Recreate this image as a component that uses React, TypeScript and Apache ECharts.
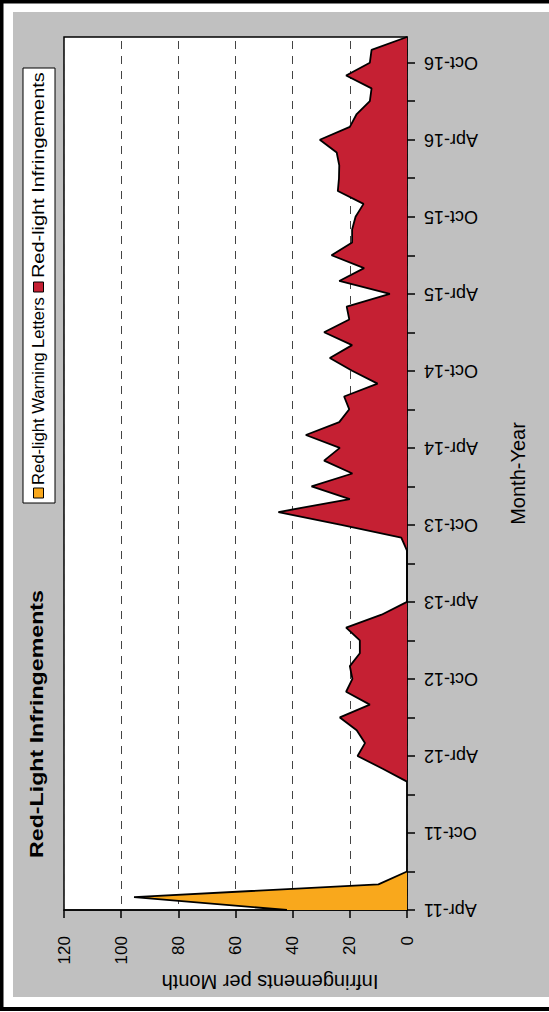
import React, { useEffect, useRef } from "react";
import * as echarts from "echarts";

const months = [
  "Apr-11", "May-11", "Jun-11", "Jul-11", "Aug-11", "Sep-11", "Oct-11", "Nov-11", "Dec-11",
  "Jan-12", "Feb-12", "Mar-12", "Apr-12", "May-12", "Jun-12", "Jul-12", "Aug-12", "Sep-12", "Oct-12", "Nov-12", "Dec-12",
  "Jan-13", "Feb-13", "Mar-13", "Apr-13", "May-13", "Jun-13", "Jul-13", "Aug-13", "Sep-13", "Oct-13", "Nov-13", "Dec-13",
  "Jan-14", "Feb-14", "Mar-14", "Apr-14", "May-14", "Jun-14", "Jul-14", "Aug-14", "Sep-14", "Oct-14", "Nov-14", "Dec-14",
  "Jan-15", "Feb-15", "Mar-15", "Apr-15", "May-15", "Jun-15", "Jul-15", "Aug-15", "Sep-15", "Oct-15", "Nov-15", "Dec-15",
  "Jan-16", "Feb-16", "Mar-16", "Apr-16", "May-16", "Jun-16", "Jul-16", "Aug-16", "Sep-16", "Oct-16", "Nov-16", "Dec-16",
];

const warningLetters: (number | null)[] = [42, 95.5, 10, 0];

const infringements: (number | null)[] = [
  null, null, null, null, null, null, null, null, null, null,
  0, 8.5, 17.3, 14.7, 17.6, 23.5, 13, 21.3, 19.1, 20, 16.5,
  16.5, 21.3, 8.9, 0, 0, 0, 0, 0, 2, 23, 45, 20,
  33.4, 19.1, 29, 23.5, 35.4, 23.7, 20.2, 22, 10.3, 19.2, 27, 19.2,
  29, 20.2, 21.1, 6, 23.7, 15, 26.4, 19.2, 19.2, 18, 15.2, 24.2,
  23.8, 23.7, 24.6, 30.5, 20, 17.6, 13, 12.4, 21.3, 13, 12.4, 0,
];

const seriesNames = ["Red-light Warning Letters", "Red-light Infringements"];
const seriesColors = ["#F9A81C", "#C52033"];
const titleText = "Red-Light Infringements";
const xName = "Month-Year";
const yName = "Infringements per Month";

const FONT = "'Liberation Sans', Arial, Helvetica, sans-serif";

function measure(text: string, font: string): number {
  const c = document.createElement("canvas").getContext("2d");
  if (!c) return text.length * 8;
  c.font = font;
  return c.measureText(text).width;
}

export default function App() {
  const ref = useRef<HTMLDivElement>(null);

  useEffect(() => {
    if (!ref.current) return;
    const chart = echarts.init(ref.current, null, { renderer: "svg" });

    const titleFont = `bold 19px ${FONT}`;
    const legendFont = `16px ${FONT}`;
    const titleScale = 268 / measure(titleText, titleFont);
    const leg0Scale = 188 / measure(seriesNames[0], legendFont);
    const leg1Scale = 206 / measure(seriesNames[1], legendFont);

    const option: any = {
      animation: false,
      backgroundColor: "#ffffff",
      grid: {
        left: 64,
        right: 142,
        top: 37,
        bottom: 102,
        show: true,
        backgroundColor: "#ffffff",
        borderColor: "#000",
        borderWidth: 1.5,
        containLabel: false,
      },
      xAxis: {
        type: "value",
        inverse: true,
        min: 0,
        max: 120,
        interval: 20,
        position: "bottom",
        name: yName,
        nameLocation: "middle",
        nameGap: 70,
        nameRotate: 180,
        nameTextStyle: {
          fontFamily: FONT,
          fontSize: 20,
          color: "#000",
          align: "center",
          verticalAlign: "middle",
          padding: [0, 69, 0, 0],
        },
        axisLine: { show: true, lineStyle: { color: "#000", width: 1.5 } },
        axisTick: { show: true, length: 8, inside: false, lineStyle: { color: "#000", width: 1.5 } },
        axisLabel: {
          rotate: 90,
          margin: 26,
          fontFamily: FONT,
          fontSize: 17,
          color: "#000",
        },
        splitLine: {
          show: true,
          lineStyle: { color: "#444", width: 1, type: [8, 7], dashOffset: 11 },
        },
      },
      yAxis: {
        type: "category",
        data: months,
        boundaryGap: false,
        position: "right",
        name: xName,
        nameLocation: "middle",
        nameGap: 111,
        nameRotate: 90,
        nameTextStyle: {
          fontFamily: FONT,
          fontSize: 20,
          color: "#000",
          align: "center",
          verticalAlign: "middle",
        },
        axisLine: { show: true, onZero: false, lineStyle: { color: "#000", width: 1.5 } },
        axisTick: { show: true, interval: 2, length: 8, inside: false, lineStyle: { color: "#000", width: 1.5 } },
        axisLabel: {
          interval: 5,
          rotate: 180,
          align: "right",
          verticalAlign: "middle",
          margin: 17,
          fontFamily: FONT,
          fontSize: 18,
          color: "#000",
        },
        splitLine: { show: false },
      },
      series: [
        {
          name: seriesNames[0],
          type: "line",
          data: warningLetters,
          showSymbol: false,
          symbol: "none",
          lineStyle: { color: "#000", width: 1.8 },
          areaStyle: { color: seriesColors[0], opacity: 1 },
          itemStyle: { color: seriesColors[0] },
          z: 3,
        },
        {
          name: seriesNames[1],
          type: "line",
          data: infringements,
          showSymbol: false,
          symbol: "none",
          lineStyle: { color: "#000", width: 1.8 },
          areaStyle: { color: seriesColors[1], opacity: 1 },
          itemStyle: { color: seriesColors[1] },
          z: 4,
        },
      ],
      graphic: [
        { type: "rect", z: -5, silent: true, shape: { x: 13, y: 12, width: 545, height: 985 }, style: { fill: "#c0c0c0" } },
        { type: "rect", z: -4, silent: true, shape: { x: 0, y: 0, width: 549, height: 3.5 }, style: { fill: "#000" } },
        { type: "rect", z: -4, silent: true, shape: { x: 0, y: 0, width: 3.5, height: 1011 }, style: { fill: "#000" } },
        { type: "rect", z: -4, silent: true, shape: { x: 0, y: 1007, width: 549, height: 4 }, style: { fill: "#000" } },
        {
          type: "rect",
          z: 10,
          silent: true,
          shape: { x: 23, y: 68, width: 32, height: 435 },
          style: { fill: "#fff", stroke: "#000", lineWidth: 1 },
        },
        {
          type: "rect",
          z: 11,
          silent: true,
          shape: { x: 33.5, y: 488, width: 10, height: 10 },
          style: { fill: seriesColors[0], stroke: "#000", lineWidth: 1 },
        },
        {
          type: "text",
          z: 11,
          silent: true,
          x: 38.5,
          y: 485,
          rotation: Math.PI / 2,
          scaleX: leg0Scale,
          style: {
            text: seriesNames[0],
            fontFamily: FONT,
            fontSize: 16,
            fill: "#000",
            align: "left",
            verticalAlign: "middle",
          },
        },
        {
          type: "rect",
          z: 11,
          silent: true,
          shape: { x: 33.5, y: 282, width: 10, height: 10 },
          style: { fill: seriesColors[1], stroke: "#000", lineWidth: 1 },
        },
        {
          type: "text",
          z: 11,
          silent: true,
          x: 38.5,
          y: 278,
          rotation: Math.PI / 2,
          scaleX: leg1Scale,
          style: {
            text: seriesNames[1],
            fontFamily: FONT,
            fontSize: 16,
            fill: "#000",
            align: "left",
            verticalAlign: "middle",
          },
        },
        {
          type: "text",
          z: 11,
          silent: true,
          x: 36,
          y: 724,
          rotation: Math.PI / 2,
          scaleX: titleScale,
          style: {
            text: titleText,
            fontFamily: FONT,
            fontSize: 19,
            fontWeight: "bold",
            fill: "#000",
            align: "center",
            verticalAlign: "middle",
          },
        },
      ],
    };

    chart.setOption(option);
    return () => {
      chart.dispose();
    };
  }, []);

  return (
    <div
      ref={ref}
      style={{ position: "absolute", left: 0, top: 0, width: 549, height: 1012 }}
    />
  );
}
